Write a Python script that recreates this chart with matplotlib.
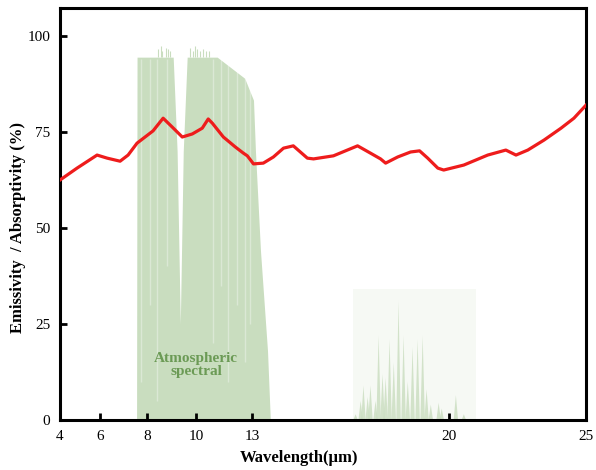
import numpy as np
import matplotlib
matplotlib.use('Agg')
import matplotlib.pyplot as plt

# tick wavelengths and where they sit along the (non-linear) x axis
tick_wl = [4, 6, 8, 10, 13, 20, 25]
tick_pos = [60, 100, 147, 196, 252, 448, 585]

# red emissivity curve
line_wl = [4.0, 4.85, 5.85, 6.30, 6.85, 7.19, 7.57, 8.24, 8.65, 9.02, 9.43, 9.84,
           10.32, 10.64, 10.86, 11.45, 12.09, 12.52, 12.73, 13.04, 13.39, 13.75,
           14.11, 14.46, 14.96, 15.18, 15.89, 16.75, 17.21, 17.57, 17.75, 18.18,
           18.64, 18.96, 19.25, 19.61, 19.82, 20.55, 21.42, 22.08, 22.45, 22.88,
           23.47, 24.09, 24.56, 25.0]
line_val = [62.5, 65.6, 69.0, 68.2, 67.4, 69.0, 72.1, 75.3, 78.6, 76.3, 73.7, 74.5,
            76.0, 78.4, 77.3, 73.7, 71.1, 69.5, 68.8, 66.7, 66.9, 68.5,
            70.8, 71.4, 68.2, 68.0, 68.8, 71.4, 69.5, 68.0, 66.9, 68.5,
            69.8, 70.1, 68.2, 65.6, 65.1, 66.4, 69.0, 70.3, 69.0, 70.3,
            72.9, 76.0, 78.6, 82.0]

# atmospheric window (8-13 um)
win_wl = [7.55, 7.57, 9.06, 9.22, 9.35, 9.47, 9.63, 11.12, 12.59, 13.04, 13.11,
          13.29, 13.54, 13.64]
win_val = [0, 94.5, 94.5, 70, 25, 70, 94.5, 94.5, 89, 83.3, 70, 44, 18, 0]

spike_wl = [8.45, 8.55, 8.62, 8.75, 8.85, 8.95, 9.75, 9.85, 9.95, 10.05, 10.2,
            10.35, 10.5, 10.7]
spike_top = [96.5, 97.5, 96.0, 97.0, 96.5, 96.0, 97.0, 96.0, 97.5, 96.5, 96.0,
             96.5, 96.0, 96.0]

# lighter streaks inside the window
streak_wl = [7.75, 8.1, 8.4, 8.8, 10.9, 11.3, 11.7, 12.2, 12.6, 12.85]
streak_low = [10, 30, 5, 40, 20, 35, 10, 30, 15, 25]

# second (16-21 um) band
band2_wl = [16.57, 20.99]
band2_top = 34
peak_wl = [16.68, 16.86, 16.96, 17.11, 17.21, 17.39, 17.50, 17.64, 17.75, 17.89,
           18.04, 18.21, 18.39, 18.54, 18.71, 18.89, 19.07, 19.21, 19.36, 19.64,
           19.75, 20.26, 20.55]
peak_val = [1.5, 5, 9, 6, 9, 5, 22, 12, 11, 21, 15, 31, 22, 10, 19, 21, 22, 8, 4,
            4.5, 3, 6.5, 1.5]

green = '#c9ddbf'


def forward(x):
    return np.interp(x, tick_wl, tick_pos)


def inverse(p):
    return np.interp(p, tick_pos, tick_wl)


fig = plt.figure(figsize=(5.96, 4.70), dpi=100)
ax = fig.add_axes([60 / 596, 1 - 420 / 470, 526 / 596, 412 / 470])
ax.set_xscale('function', functions=(forward, inverse))

ax.fill_between(win_wl, 0, win_val, color=green, lw=0)
ax.vlines(spike_wl, 94.5, spike_top, color=green, lw=0.8)
ax.vlines(streak_wl, streak_low, 94, color='white', lw=1.0, alpha=0.35)

ax.fill_between(band2_wl, 0, band2_top, color='#f6f9f4', lw=0)
for c, h in zip(peak_wl, peak_val):
    ax.fill([c - 0.08, c, c + 0.08], [0, h, 0], color=green, lw=0, alpha=0.8)

ax.plot(line_wl, line_val, color='#ee1c1c', lw=2.3, solid_joinstyle='round', zorder=5)

ax.text(10.0, 14.3, 'Atmospheric\nspectral', ha='center', va='center',
        fontsize=11, fontweight='bold', color='#6b9a55', family='Liberation Serif',
        linespacing=1.0)

ax.set_xlim(4, 25)
ax.set_ylim(0, 107.3)
ax.set_xticks(tick_wl)
ax.set_xticklabels([str(t) for t in tick_wl])
ax.set_yticks([0, 25, 50, 75, 100])

for s in ax.spines.values():
    s.set_linewidth(2.2)
ax.tick_params(direction='in', length=5, width=2, labelsize=11, pad=7,
               top=False, right=False)
for lbl in ax.get_xticklabels() + ax.get_yticklabels():
    lbl.set_family('Liberation Serif')

ax.set_xlabel('Wavelength(\u03bcm)', fontsize=12, fontweight='bold',
              family='Liberation Serif')
ax.set_ylabel('Emissivity  / Absorptivity (%)', fontsize=12, fontweight='bold',
              family='Liberation Serif')
ax.xaxis.set_label_coords(0.454, -0.073)
ax.yaxis.set_label_coords(-0.065, 0.468)

fig.savefig('out.png', dpi=100)
